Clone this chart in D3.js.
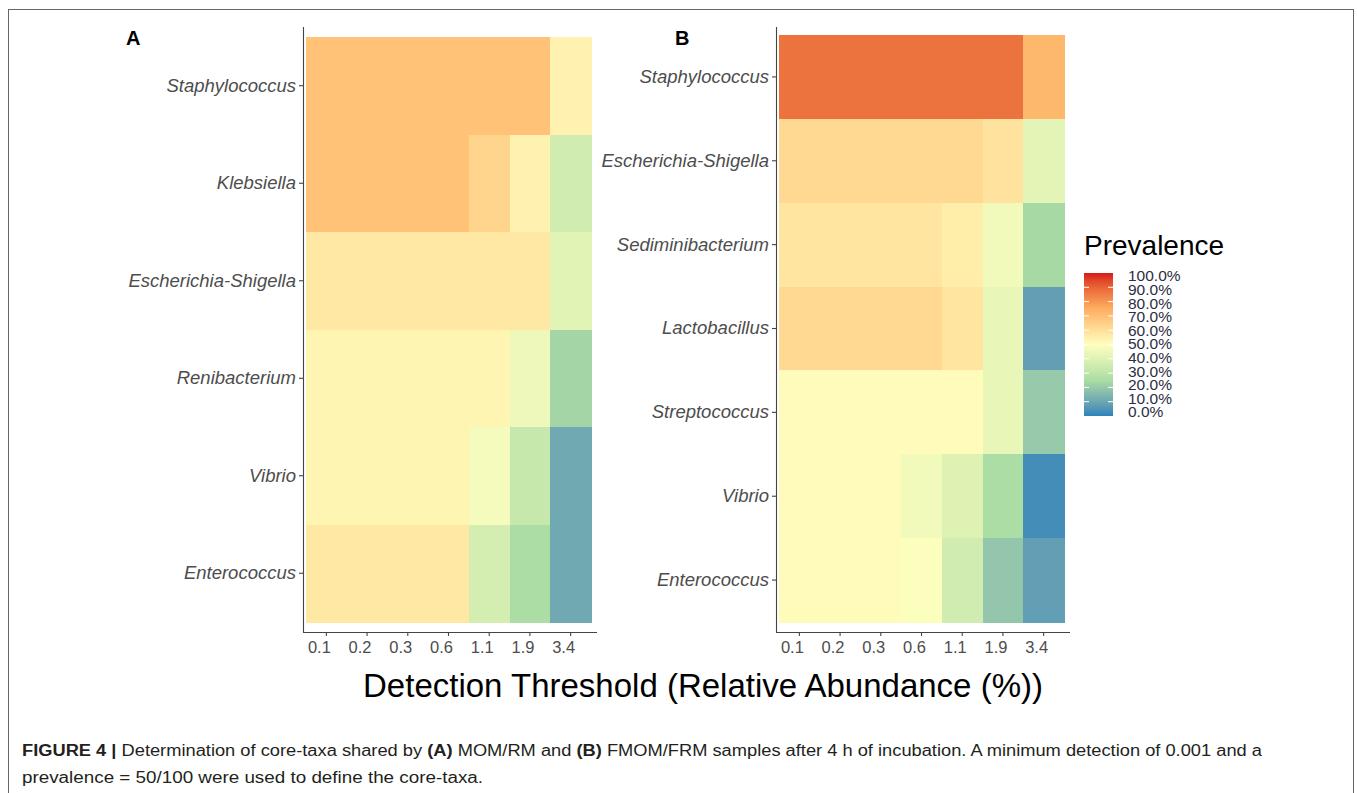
<!DOCTYPE html>
<html>
<head>
<meta charset="utf-8">
<script src="https://cdnjs.cloudflare.com/ajax/libs/d3/7.8.5/d3.min.js"></script>
<style>
    body { margin: 0; background: #fff; }
    svg { display: block; font-family: "Liberation Sans", Arial, sans-serif; }
    .axis path, .axis line { stroke: #444; stroke-width: 1.1; }
    .axis text { fill: #4d4d4d; font-size: 16.5px; }
    .taxa text { font-style: italic; font-size: 18.5px; }
</style>
</head>
<body>
<div id="chart"></div>
<script>
// detection thresholds (x categories), shared by both panels
const thresholds = ["0.1", "0.2", "0.3", "0.6", "1.1", "1.9", "3.4"];

// panel A: MOM/RM
const taxaA = ["Staphylococcus", "Klebsiella", "Escherichia-Shigella", "Renibacterium", "Vibrio", "Enterococcus"];
const prevA = [
    [0.69, 0.69, 0.69, 0.69, 0.69, 0.69, 0.54],
    [0.69, 0.69, 0.69, 0.69, 0.63, 0.54, 0.36],
    [0.57, 0.57, 0.57, 0.57, 0.57, 0.57, 0.41],
    [0.53, 0.53, 0.53, 0.53, 0.53, 0.45, 0.23],
    [0.53, 0.53, 0.53, 0.53, 0.47, 0.33, 0.11],
    [0.57, 0.57, 0.57, 0.57, 0.37, 0.25, 0.11]
];

// panel B: FMOM/FRM
const taxaB = ["Staphylococcus", "Escherichia-Shigella", "Sediminibacterium", "Lactobacillus", "Streptococcus", "Vibrio", "Enterococcus"];
const prevB = [
    [0.87, 0.87, 0.87, 0.87, 0.87, 0.87, 0.72],
    [0.62, 0.62, 0.62, 0.62, 0.62, 0.59, 0.42],
    [0.58, 0.58, 0.58, 0.58, 0.555, 0.46, 0.24],
    [0.62, 0.62, 0.62, 0.62, 0.58, 0.43, 0.08],
    [0.51, 0.51, 0.51, 0.51, 0.51, 0.43, 0.20],
    [0.51, 0.51, 0.51, 0.46, 0.40, 0.25, 0.03],
    [0.51, 0.51, 0.51, 0.49, 0.36, 0.19, 0.08]
];

// legend
const legendTicks = [0, 0.1, 0.2, 0.3, 0.4, 0.5, 0.6, 0.7, 0.8, 0.9, 1];
const paletteStops = [0, 0.25, 0.5, 0.75, 1];
const paletteColors = ["#2b83ba", "#abdda4", "#ffffbf", "#fdae61", "#d7191c"];

const W = 1357, H = 793;

const color = d3.scaleLinear()
    .domain(paletteStops)
    .range(paletteColors)
    .interpolate(d3.interpolateLab);

const svg = d3.select("#chart").append("svg")
    .attr("width", W)
    .attr("height", H);

// outer figure frame
svg.append("rect")
    .attr("x", 8.5).attr("y", 9.5)
    .attr("width", 1345).attr("height", 800)
    .attr("fill", "none")
    .attr("stroke", "#666")
    .attr("stroke-width", 1);

function drawPanel(opts) {
    const { taxa, prev, axisX, tileLeft, tileRight, tileTop, tileBottom, label, labelX } = opts;

    const x = d3.scaleBand().domain(thresholds).range([tileLeft, tileRight]);
    const y = d3.scaleBand().domain(taxa).range([tileTop, tileBottom]);

    const cells = [];
    taxa.forEach((t, i) => thresholds.forEach((th, j) => cells.push({ taxon: t, th, v: prev[i][j] })));

    svg.append("g")
        .attr("shape-rendering", "crispEdges")
        .selectAll("rect")
        .data(cells)
        .enter().append("rect")
        .attr("x", d => x(d.th))
        .attr("y", d => y(d.taxon))
        .attr("width", x.bandwidth() + 0.5)
        .attr("height", y.bandwidth() + 0.5)
        .attr("fill", d => color(d.v));

    // x axis
    const xAxis = svg.append("g")
        .attr("class", "axis")
        .attr("transform", `translate(0,632)`)
        .call(d3.axisBottom(x).tickSize(4).tickPadding(5).tickSizeOuter(0));
    xAxis.select(".domain").attr("d", `M${axisX},0.5H${tileRight + 6}`);
    xAxis.selectAll("text").attr("dx", -7);

    // y axis
    const yAxis = svg.append("g")
        .attr("class", "axis taxa")
        .attr("transform", `translate(${axisX},0)`)
        .call(d3.axisLeft(y).tickSize(4).tickPadding(3).tickSizeOuter(0));
    yAxis.select(".domain").attr("d", `M0.5,27V632`);

    svg.append("text")
        .attr("x", labelX).attr("y", 45)
        .attr("font-size", 20)
        .attr("font-weight", "bold")
        .attr("fill", "#000")
        .text(label);
}

drawPanel({ taxa: taxaA, prev: prevA, axisX: 303, tileLeft: 306, tileRight: 591, tileTop: 37, tileBottom: 622, label: "A", labelX: 126 });
drawPanel({ taxa: taxaB, prev: prevB, axisX: 776, tileLeft: 779, tileRight: 1064, tileTop: 35, tileBottom: 622, label: "B", labelX: 675 });

// shared x title
svg.append("text")
    .attr("x", 703).attr("y", 697)
    .attr("text-anchor", "middle")
    .attr("font-size", 33)
    .attr("fill", "#000")
    .text("Detection Threshold (Relative Abundance (%))");

// legend
const legX = 1084, legW = 29;
const legY = d3.scaleLinear().domain([0, 1]).range([416, 273]);
const legLabelY = d3.scaleLinear().domain([0, 1]).range([412, 276]);

const grad = svg.append("defs").append("linearGradient")
    .attr("id", "prevGrad")
    .attr("x1", 0).attr("y1", 1).attr("x2", 0).attr("y2", 0);
d3.range(0, 1.0001, 0.05).forEach(v => {
    grad.append("stop").attr("offset", v).attr("stop-color", color(v));
});

svg.append("text")
    .attr("x", 1084).attr("y", 255)
    .attr("font-size", 28)
    .attr("fill", "#000")
    .text("Prevalence");

svg.append("rect")
    .attr("x", legX).attr("y", legY(1))
    .attr("width", legW).attr("height", legY(0) - legY(1))
    .attr("fill", "url(#prevGrad)");

const inner = legendTicks.filter(v => v > 0 && v < 1);
svg.append("g").selectAll("path")
    .data(inner)
    .enter().append("path")
    .attr("d", d => `M${legX},${legY(d)}h5M${legX + legW - 5},${legY(d)}h5`)
    .attr("stroke", "#fff")
    .attr("stroke-width", 1);

svg.append("g").selectAll("text")
    .data(legendTicks)
    .enter().append("text")
    .attr("x", 1128)
    .attr("y", d => legLabelY(d))
    .attr("dy", "0.35em")
    .attr("font-size", 15.5)
    .attr("fill", "#2d2d44")
    .text(d => d3.format(".1%")(d));

// caption
const cap1 = svg.append("text")
    .attr("x", 22).attr("y", 756)
    .attr("font-size", 16)
    .attr("fill", "#231f20")
    .attr("textLength", 1240)
    .attr("lengthAdjust", "spacingAndGlyphs");
cap1.append("tspan").attr("font-weight", "bold").text("FIGURE 4 |");
cap1.append("tspan").text(" Determination of core-taxa shared by ");
cap1.append("tspan").attr("font-weight", "bold").text("(A)");
cap1.append("tspan").text(" MOM/RM and ");
cap1.append("tspan").attr("font-weight", "bold").text("(B)");
cap1.append("tspan").text(" FMOM/FRM samples after 4 h of incubation. A minimum detection of 0.001 and a");

svg.append("text")
    .attr("x", 22).attr("y", 783)
    .attr("font-size", 16)
    .attr("fill", "#231f20")
    .attr("textLength", 461)
    .attr("lengthAdjust", "spacingAndGlyphs")
    .text("prevalence = 50/100 were used to define the core-taxa.");
</script>
</body>
</html>
